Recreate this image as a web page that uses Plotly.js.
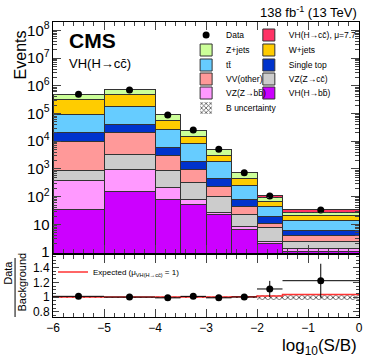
<!DOCTYPE html>
<html>
<head>
<meta charset="utf-8">
<script src="https://cdn.plot.ly/plotly-3.0.1.min.js"></script>
<style>body{margin:0;background:#fff}</style>
</head>
<body>
<div id="fig" style="width:374px;height:359px"></div>
<script>
// bin edges in log10(S/B)
var edges = [-6, -5, -4, -3.5, -3, -2.5, -2, -1.5, 0];

// stacked backgrounds, bottom first
var vhbb   = [35, 160, 82, 53, 22, 6.8, 2.05, 1.1];
var vzbb   = [340, 810, 136, 29, 6, 1.4, 0.45, 0.2];
var vzcc   = [535, 2230, 672, 248, 71, 15.4, 5.1, 1.2];
var vvoth  = [8690, 17800, 2280, 640, 141, 22.4, 3.3, 1.4];
var stop   = [11400, 20000, 2830, 900, 220, 34, 7.7, 2.3];
var ttbar  = [75000, 136000, 21000, 6530, 1360, 176, 25, 8.1];
var wjets  = [237000, 290000, 28000, 7000, 1350, 189, 23, 6.1];
var zjets  = [161000, 239000, 34000, 10000, 2030, 285, 28, 6.6];
var vhcc   = [3, 5, 3, 3, 3, 4, 15, 8];   // mu = 7.7

var dataN    = [499000, 706000, 88100, 25650, 5150, 731, 105, 33];
var ratioErr = [0.002, 0.002, 0.003, 0.006, 0.014, 0.037, 0.11, 0.23];
var expRatio = [1.0, 1.0, 1.0, 1.0, 1.0, 1.003, 1.015, 1.035];
var uncRel   = [0.008, 0.008, 0.01, 0.015, 0.012, 0.012, 0.035, 0.04];

var centers = [], widths = [], halfw = [];
for (var i = 0; i < edges.length - 1; i++) {
  centers.push((edges[i] + edges[i+1]) / 2);
  widths.push(edges[i+1] - edges[i]);
  halfw.push((edges[i+1] - edges[i]) / 2);
}

var bkgList = [vhbb, vzbb, vzcc, vvoth, stop, ttbar, wjets, zjets];
var total = [];
for (var i = 0; i < centers.length; i++) {
  var s = 0;
  for (var k = 0; k < bkgList.length; k++) s += bkgList[k][i];
  total.push(s);
}
var ratio = dataN.map(function(d, i) { return d / total[i]; });

var outl = {color: '#333', width: 1};
function stackTrace(y, name, color, leg) {
  return {type: 'bar', x: centers, y: y, width: widths, name: name,
    marker: {color: color, line: outl}, legend: leg,
    hoverinfo: 'none', xaxis: 'x', yaxis: 'y'};
}

var traces = [
  stackTrace(vhbb,  'VH(H\u2192bb\u0304)', '#cc00ff', 'legend10'),
  stackTrace(vzbb,  'VZ(Z\u2192bb\u0304)', '#ff99ff', 'legend9'),
  stackTrace(vzcc,  'VZ(Z\u2192cc\u0304)', '#cccccc', 'legend8'),
  stackTrace(vvoth, 'VV(other)', '#ff9999', 'legend7'),
  stackTrace(stop,  'Single top', '#0033cc', 'legend6'),
  stackTrace(ttbar, 'tt\u0304', '#66ccff', 'legend5'),
  stackTrace(wjets, 'W+jets', '#ffcc00', 'legend4'),
  stackTrace(zjets, 'Z+jets', '#ccff99', 'legend3'),
  stackTrace(vhcc,  'VH(H\u2192cc\u0304), \u03bc=7.7', '#ff3366', 'legend2')
];

// uncertainty band on top of the stack (overlay axes so it doesn't stack)
traces.push({type: 'bar', x: centers, width: widths,
  base: total.map(function(t, i) { return t * (1 - uncRel[i]); }),
  y: total.map(function(t, i) { return t * 2 * uncRel[i]; }),
  marker: {color: 'rgba(0,0,0,0)', line: {width: 0},
    pattern: {shape: 'x', fgcolor: '#444', size: 4, solidity: 0.4}},
  name: 'B uncertainty', legend: 'legend11', hoverinfo: 'none',
  xaxis: 'x3', yaxis: 'y3'});

traces.push({type: 'scatter', mode: 'markers', x: centers, y: dataN, name: 'Data',
  marker: {color: 'black', size: 7}, legend: 'legend',
  hoverinfo: 'none', xaxis: 'x', yaxis: 'y'});

// ratio panel
traces.push({type: 'bar', x: centers, width: widths,
  base: uncRel.map(function(u) { return 1 - u; }),
  y: uncRel.map(function(u) { return 2 * u; }),
  marker: {color: 'rgba(0,0,0,0)', line: {width: 0},
    pattern: {shape: 'x', fgcolor: '#444', size: 4, solidity: 0.4}},
  showlegend: false, hoverinfo: 'none', xaxis: 'x2', yaxis: 'y2'});

traces.push({type: 'scatter', mode: 'lines', x: edges,
  y: expRatio.concat([expRatio[expRatio.length - 1]]),
  line: {shape: 'hv', color: '#ff3333', width: 1.5},
  name: 'Expected (\u03bc<sub>VH(H\u2192cc\u0304)</sub> = 1)', legend: 'legend12',
  hoverinfo: 'none', xaxis: 'x2', yaxis: 'y2'});

traces.push({type: 'scatter', mode: 'markers', x: centers, y: ratio,
  error_y: {type: 'data', array: ratioErr, color: 'black', thickness: 1, width: 0},
  error_x: {type: 'data', array: halfw, color: 'black', thickness: 1, width: 0},
  marker: {color: 'black', size: 7}, showlegend: false,
  hoverinfo: 'none', xaxis: 'x2', yaxis: 'y2'});

var F = 'Liberation Sans, Arial, sans-serif';
var tickf = {family: F, size: 12, color: 'black'};
function legItem(xp, ypx, fs) {
  return {x: xp, xanchor: 'left', y: (317 - ypx) / 295, yanchor: 'middle',
    bgcolor: 'rgba(0,0,0,0)', font: {family: F, size: fs || 8.5, color: 'black'}};
}

var c1 = 0.435, c2 = 0.64;
var layout = {
  width: 374, height: 359,
  margin: {l: 53, r: 15, t: 22, b: 42, autoexpand: false},
  paper_bgcolor: 'white', plot_bgcolor: 'white',
  barmode: 'stack', bargap: 0,
  showlegend: true,
  xaxis: {domain: [0, 1], anchor: 'y', range: [-6, 0], showticklabels: false,
    ticks: 'inside', ticklen: 8, dtick: 1, mirror: 'ticks', showline: true,
    linecolor: 'black', linewidth: 1, showgrid: false, zeroline: false,
    minor: {ticks: 'inside', ticklen: 4, dtick: 0.2}},
  yaxis: {domain: [0.217, 1], anchor: 'x', type: 'log', range: [-0.03, 8.3],
    dtick: 1, exponentformat: 'power', ticks: 'inside', ticklen: 8,
    mirror: 'ticks', showline: true, linecolor: 'black', linewidth: 1,
    showgrid: false, tickfont: tickf,
    minor: {ticks: 'inside', ticklen: 4, dtick: 'D1'}},
  xaxis3: {overlaying: 'x', anchor: 'y3', range: [-6, 0], visible: false},
  yaxis3: {overlaying: 'y', anchor: 'x3', type: 'log', range: [-0.03, 8.3], visible: false},
  xaxis2: {domain: [0, 1], anchor: 'y2', range: [-6, 0], matches: 'x',
    ticks: 'inside', ticklen: 8, dtick: 1, mirror: 'ticks', showline: true,
    linecolor: 'black', linewidth: 1, showgrid: false, zeroline: false,
    tickfont: tickf, minor: {ticks: 'inside', ticklen: 4, dtick: 0.2}},
  yaxis2: {domain: [0, 0.21], anchor: 'x2', range: [0.73, 1.57], dtick: 0.2,
    ticks: 'inside', ticklen: 6, mirror: 'ticks', showline: true,
    linecolor: 'black', linewidth: 1, showgrid: false, zeroline: false,
    tickfont: tickf, minor: {ticks: 'inside', ticklen: 3, dtick: 0.05}},
  legend:   legItem(c1, 35),
  legend2:  legItem(c2, 35),
  legend3:  legItem(c1, 50),
  legend4:  legItem(c2, 50),
  legend5:  legItem(c1, 65),
  legend6:  legItem(c2, 65),
  legend7:  legItem(c1, 79),
  legend8:  legItem(c2, 79),
  legend9:  legItem(c1, 93),
  legend10: legItem(c2, 93),
  legend11: legItem(c1, 108),
  legend12: legItem(0.0, 272, 8),
  annotations: [
    {xref: 'paper', yref: 'paper', x: 0.046, y: 0.936, xanchor: 'left', yanchor: 'middle',
      text: '<b>CMS</b>', showarrow: false, font: {family: F, size: 21, color: 'black'}},
    {xref: 'paper', yref: 'paper', x: 0.046, y: 0.858, xanchor: 'left', yanchor: 'middle',
      text: 'VH(H\u2192cc\u0304)', showarrow: false, font: {family: F, size: 13, color: 'black'}},
    {xref: 'paper', yref: 'paper', x: 1, y: 1.034, xanchor: 'right', yanchor: 'middle',
      text: '138 fb<sup>-1</sup> (13 TeV)', showarrow: false, font: {family: F, size: 13, color: 'black'}},
    {xref: 'paper', yref: 'paper', x: -0.108, y: 0.89, xanchor: 'center', yanchor: 'middle',
      textangle: -90, text: 'Events', showarrow: false, font: {family: F, size: 16, color: 'black'}},
    {xref: 'paper', yref: 'paper', x: 1, y: -0.1, xanchor: 'right', yanchor: 'middle',
      text: 'log<sub>10</sub>(S/B)', showarrow: false, font: {family: F, size: 17, color: 'black'}},
    {xref: 'paper', yref: 'paper', x: -0.147, y: 0.15, xanchor: 'center', yanchor: 'middle',
      textangle: -90, text: 'Data', showarrow: false, font: {family: F, size: 11, color: 'black'}},
    {xref: 'paper', yref: 'paper', x: -0.101, y: 0.117, xanchor: 'center', yanchor: 'middle',
      textangle: -90, text: 'Background', showarrow: false, font: {family: F, size: 11, color: 'black'}}
  ],
  shapes: [
    {type: 'line', xref: 'paper', yref: 'paper', x0: -0.124, x1: -0.124, y0: 0.2, y1: 0.0,
      line: {color: 'black', width: 1}}
  ]
};

Plotly.newPlot('fig', traces, layout, {displayModeBar: false, staticPlot: true});
</script>
</body>
</html>
